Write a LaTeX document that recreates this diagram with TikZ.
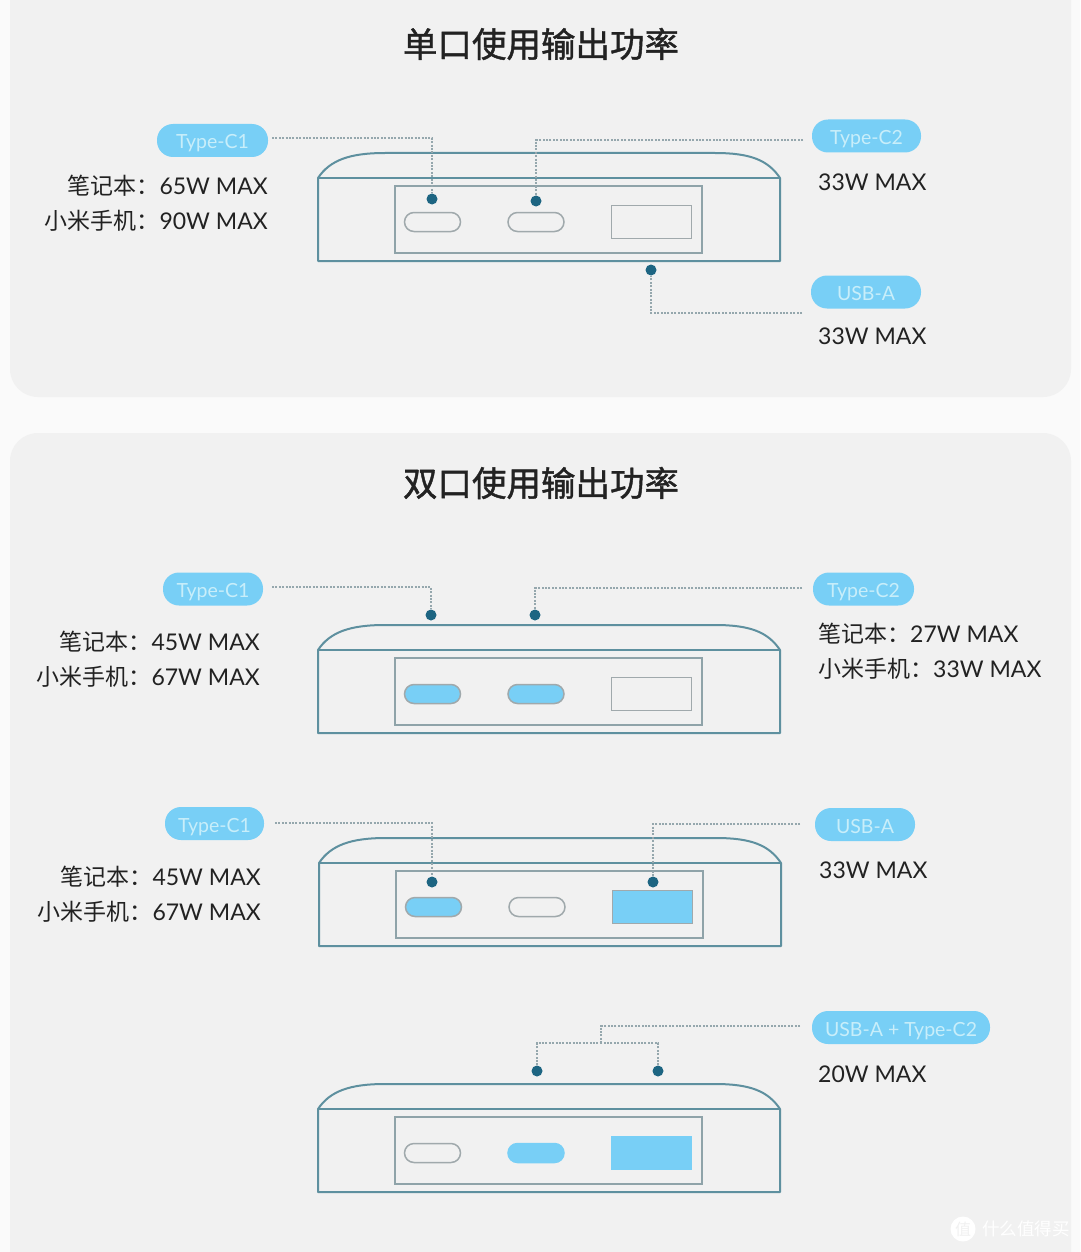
\documentclass[tikz,border=0pt]{standalone}
\usepackage{fontspec}
\setmainfont{Lato}
\newfontfamily\cjk{Noto Sans CJK SC}
\newfontfamily\cjkhead[FakeBold=1.2]{Noto Sans CJK SC}
\usetikzlibrary{calc}
\definecolor{pagebg}{HTML}{FAFAFA}
\definecolor{cardbg}{HTML}{F1F1F1}
\definecolor{shell}{HTML}{5E909F}
\definecolor{inner}{HTML}{8FA3A9}
\definecolor{portline}{HTML}{A0A9AC}
\definecolor{sky}{HTML}{78CFF6}
\definecolor{skytext}{HTML}{C8EEFA}
\definecolor{dotblue}{HTML}{1D6582}
\definecolor{leadgrey}{HTML}{95A7AD}
\definecolor{ink}{HTML}{222222}
\tikzset{
  x=1pt, y=-1pt,
  card/.style={fill=cardbg, rounded corners=28pt},
  shellline/.style={draw=shell, line width=2pt, line join=round},
  panelbox/.style={draw=inner, line width=1.5pt, fill=none, minimum width=307pt, minimum height=67pt, inner sep=0pt},
  cport/.style={draw=portline, line width=1.5pt, rounded corners=9.5pt, minimum width=56pt, minimum height=19pt, inner sep=0pt},
  aport/.style={draw=portline, line width=1.5pt, minimum width=80pt, minimum height=33pt, inner sep=0pt},
  lit/.style={fill=sky, draw=sky},
  litedge/.style={fill=sky},
  pill/.style={fill=sky, rounded corners=16pt, minimum height=33pt, inner sep=0pt, text height=17pt, text depth=0pt, text=skytext, font=\fontsize{19.5}{22}\selectfont},
  portdot/.style={circle, fill=dotblue, minimum size=11pt, inner sep=0pt},
  leader/.style={draw=leadgrey, line width=1.6pt, dash pattern=on 2pt off 1.4pt},
  title/.style={text=ink, font=\cjkhead\fontsize{34.5}{36}\selectfont, inner sep=0pt},
  spec/.style={text=ink, font=\fontsize{23}{28}\selectfont, inner sep=0pt, align=left},
  specl/.style={spec, anchor=east},
  specr/.style={spec, anchor=west},
}
\newcommand{\zh}[1]{{\cjk\fontsize{23}{28}\selectfont #1}}
% One power bank front view: #1 name prefix, #2 x shift, #3 y shift, #4/#5/#6 extra styles of the ports
\newcommand{\powerbank}[6]{%
  \begin{scope}[shift={(#2,#3)}]
    \draw[shellline] (318,178) .. controls (330,160) and (350,153) .. (385,153)
      -- (715,153) .. controls (750,153) and (768,160) .. (780,178)
      -- (780,261) -- (318,261) -- cycle;
    \draw[shellline] (318,178) -- (780,178);
    \node[panelbox] (#1panel) at (548.5,219.5) {};
    \node[cport,#4] (#1c1) at (432.5,222) {};
    \node[cport,#5] (#1c2) at (536,222) {};
    \node[aport,#6] (#1a) at (651.5,222) {};
  \end{scope}}
\begin{document}
\begin{tikzpicture}
\useasboundingbox (0,0) rectangle (1080,1252);
\fill[pagebg] (0,0) rectangle (1080,1252);
\fill[card] (10,-40) rectangle (1071,397);
\fill[card] (10,433) rectangle (1071,1292);

% Single-port section
\node[title] (t1) at (541,44) {单口使用输出功率};
\powerbank{s}{0}{0}{}{}{}
\node[pill, minimum width=111pt] (s1) at (212.5,140.5) {Type-C1};
\node[pill, minimum width=109pt] (s2) at (866.5,136) {Type-C2};
\node[pill, minimum width=110pt] (s3) at (866,292) {USB-A};
\node[portdot] (sd1) at (432,199) {};
\node[portdot] (sd2) at (536,201) {};
\node[portdot] (sd3) at (651,270) {};
\coordinate (se1) at (272,138);
\coordinate (se2) at (803,140);
\coordinate (se3) at (802,313);
\draw[leader] (se1) -| (sd1);
\draw[leader] (se2) -| (sd2);
\draw[leader] (se3) -| (sd3);
\node[specl] (sl1) at (268,186) {\zh{笔记本：}65W MAX};
\node[specl] (sl2) at (268,221) {\zh{小米手机：}90W MAX};
\node[specr] (sr1) at (818,182) {33W MAX};
\node[specr] (sr2) at (818,336) {33W MAX};

% Dual-port section
\node[title] (t2) at (541,483) {双口使用输出功率};

\powerbank{a}{0}{472}{litedge}{litedge}{}
\node[pill, minimum width=100pt] (a1) at (213,589) {Type-C1};
\node[pill, minimum width=101pt] (a2) at (863.5,589) {Type-C2};
\node[portdot] (ad1) at (431,615) {};
\node[portdot] (ad2) at (535,615) {};
\coordinate (ae1) at (272,587);
\coordinate (ae2) at (802,588);
\draw[leader] (ae1) -| (ad1);
\draw[leader] (ae2) -| (ad2);
\node[specl] (al1) at (260,642) {\zh{笔记本：}45W MAX};
\node[specl] (al2) at (260,677) {\zh{小米手机：}67W MAX};
\node[specr] (ar1) at (818,634) {\zh{笔记本：}27W MAX};
\node[specr] (ar2) at (818,669) {\zh{小米手机：}33W MAX};

\powerbank{b}{1}{685}{litedge}{}{litedge}
\node[pill, minimum width=99pt] (b1) at (214.5,823.5) {Type-C1};
\node[pill, minimum width=100pt] (b2) at (865,824.5) {USB-A};
\node[portdot] (bd1) at (432,882) {};
\node[portdot] (bd2) at (653,882) {};
\coordinate (be1) at (275,823);
\coordinate (be2) at (800,824);
\draw[leader] (be1) -| (bd1);
\draw[leader] (be2) -| (bd2);
\node[specl] (bl1) at (261,877) {\zh{笔记本：}45W MAX};
\node[specl] (bl2) at (261,912) {\zh{小米手机：}67W MAX};
\node[specr] (br1) at (819,870) {33W MAX};

\powerbank{c}{0}{931}{}{lit}{lit}
\node[pill, minimum width=178pt] (c1) at (901,1027.5) {USB-A + Type-C2};
\node[portdot] (cd1) at (537,1071) {};
\node[portdot] (cd2) at (658,1071) {};
\coordinate (ce1) at (800,1026);
\coordinate (cj) at (601,1043);
\draw[leader] (ce1) -| (cj);
\draw[leader] (cd1) |- (cj);
\draw[leader] (cd2) |- (cj);
\node[specr] (cr1) at (818,1074) {20W MAX};

% Site mark in the lower right corner
\node[circle, fill=white, minimum size=25pt, inner sep=0pt, text=cardbg, font=\cjk\fontsize{16}{16}\selectfont] (wm) at (963,1229) {值};
\node[anchor=west, inner sep=0pt, text=white, font=\cjk\fontsize{17.5}{18}\selectfont] (wt) at (982,1229) {什么值得买};
\end{tikzpicture}
\end{document}
